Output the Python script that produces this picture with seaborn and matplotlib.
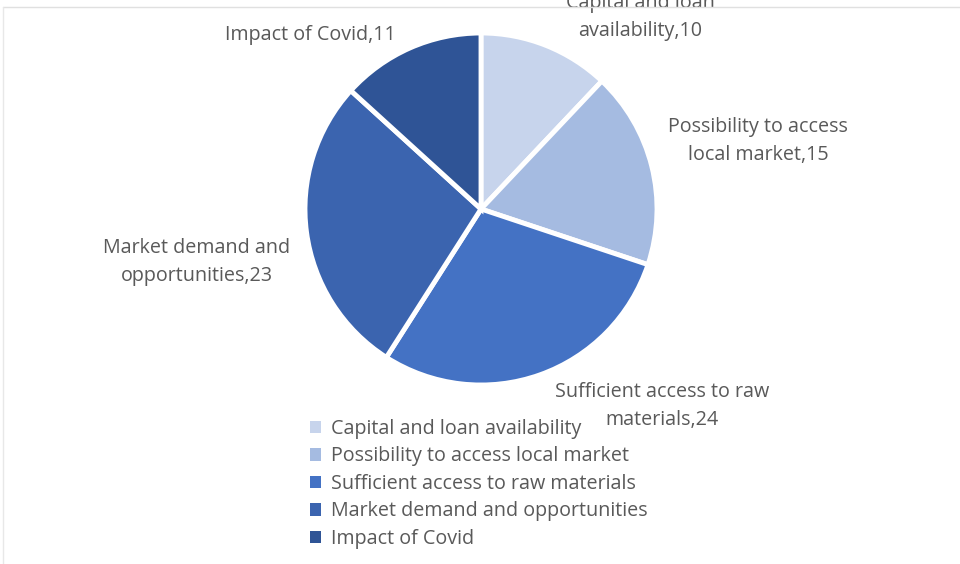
import matplotlib
matplotlib.use("Agg")
import matplotlib.pyplot as plt
from matplotlib.patches import Patch
import seaborn as sns

# Data
categories = ['Capital and loan availability', 'Possibility to access local market',
              'Sufficient access to raw materials', 'Market demand and opportunities',
              'Impact of Covid']
values = [10, 15, 24, 23, 11]
label_texts = ['Capital and loan\navailability,10', 'Possibility to access\nlocal market,15',
               'Sufficient access to raw\nmaterials,24', 'Market demand and\nopportunities,23',
               'Impact of Covid,11']
colors = ['#C7D4EC', '#A5BBE1', '#4472C4', '#3B64AF', '#2F5496']

sns.set_theme(style='white')
plt.rcParams['font.family'] = ['Open Sans', 'DejaVu Sans']

fig = plt.figure(figsize=(9.6, 5.64), dpi=100)
ax = fig.add_axes([0, 0, 1, 1])
ax.set_xlim(0, 960)
ax.set_ylim(0, 564)
ax.set_aspect('equal')
ax.axis('off')

wedges, _ = ax.pie(values, colors=colors, startangle=90, counterclock=False,
                   center=(481, 564 - 209), radius=176,
                   wedgeprops=dict(edgecolor='white', linewidth=3.5))
ax.set_xlim(0, 960)
ax.set_ylim(0, 564)

# data labels placed outside the slices
label_pos = [(640, 564 - 17), (758, 564 - 141), (662, 564 - 406),
             (197, 564 - 262), (310, 564 - 35)]
for txt, (x, y) in zip(label_texts, label_pos):
    ax.text(x, y, txt, ha='center', va='center', fontsize=14.2,
            color='#595959', linespacing=1.5)

# legend squares without the white wedge edge
handles = [Patch(facecolor=c, edgecolor='none') for c in colors]
leg = ax.legend(handles, categories, loc='upper left',
                bbox_to_anchor=(310 / 960, 1 - 419 / 564), frameon=False,
                fontsize=14.2, labelcolor='#595959', handlelength=0.58,
                handleheight=0.58, handletextpad=0.5, labelspacing=0.38,
                borderaxespad=0, borderpad=0)

# faint frame lines at the top and left edges
fig.add_artist(plt.Line2D([3 / 960, 1], [1 - 7 / 564, 1 - 7 / 564], color='#E0E0E0', lw=1))
fig.add_artist(plt.Line2D([3 / 960, 3 / 960], [0, 1 - 7 / 564], color='#E8E8E8', lw=1))

fig.savefig('out.png', dpi=100, facecolor='white')
